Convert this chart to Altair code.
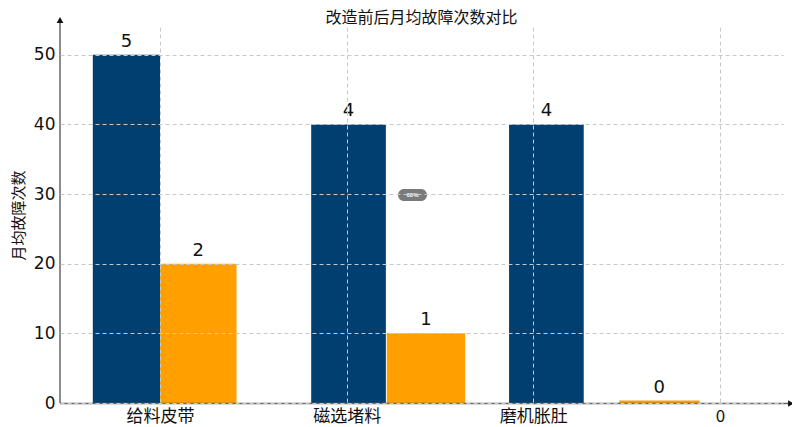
import altair as alt
import pandas as pd

categories = ["给料皮带", "磁选堵料", "磨机胀肚", "0"]
series = ["改造前", "改造后", "改造前", "改造后", "改造前", "改造后"]
values = [50, 20, 40, 10, 40, 0.35]
labels = ["5", "2", "4", "1", "4", "0"]
# bar extents on the category-index axis
bar_start = [-0.36, 0.0, 0.81, 1.215, 1.87, 2.46]
bar_end = [0.0, 0.41, 1.21, 1.635, 2.27, 2.89]
y_ticks = [0, 10, 20, 30, 40, 50]
title_text = "改造前后月均故障次数对比"

BLUE = "#003f6f"
ORANGE = "#ff9f00"
FONT = "Noto Sans CJK SC"

df = pd.DataFrame({
    "series": series, "value": values, "label": labels,
    "x0": bar_start, "x1": bar_end,
})
df["xc"] = (df["x0"] + df["x1"]) / 2
one = pd.DataFrame({"k": [0]})

W, H = 723, 376
xscale = alt.Scale(domain=[-0.5357, 3.3375], nice=False, zero=False)
yscale = alt.Scale(domain=[0, 54], nice=False)

label_expr = "[" + ",".join(f"'{c}'" for c in categories) + "][datum.value]"

base = alt.Chart(df)

bars = base.mark_bar(stroke=None).encode(
    x=alt.X("x0:Q", scale=xscale,
            axis=alt.Axis(values=[0, 1, 2, 3], labelExpr=label_expr, title=None,
                          grid=True, gridDash=[4, 3], gridColor="#c8c8c8",
                          domain=False, ticks=False, labelFontSize=17,
                          labelFont=FONT, labelColor="#111", labelPadding=5,
                          zindex=1)),
    x2="x1:Q",
    y=alt.Y("value:Q", scale=yscale,
            axis=alt.Axis(values=y_ticks, title="月均故障次数", grid=True,
                          gridDash=[4, 3], gridColor="#c8c8c8", domain=False,
                          ticks=False, labelFontSize=17, labelFont="DejaVu Sans",
                          labelColor="#111", labelPadding=5, titleFontSize=15,
                          titleFont=FONT, titleFontWeight="normal",
                          titleColor="#111", titlePadding=7, zindex=1)),
    y2=alt.datum(0),
    color=alt.Color("series:N", scale=alt.Scale(domain=["改造前", "改造后"],
                                                range=[BLUE, ORANGE]),
                    legend=None),
)

texts = base.mark_text(baseline="alphabetic", dy=-8, fontSize=18,
                       font="DejaVu Sans", color="#111").encode(
    x=alt.X("xc:Q", scale=xscale),
    y=alt.Y("value:Q", scale=yscale),
    text="label:N",
)

deco = alt.Chart(one)
yaxis_line = deco.mark_rule(color="#666", strokeWidth=1.5).encode(
    x=alt.value(0), y=alt.value(-6), y2=alt.value(H))
xaxis_line = deco.mark_rule(color="#666", strokeWidth=1.5).encode(
    x=alt.value(0), x2=alt.value(730), y=alt.value(H + 0.5))
yarrow = deco.mark_point(shape="triangle-up", filled=True, size=45,
                         color="#111", opacity=1).encode(
    x=alt.value(0), y=alt.value(-7))
xarrow = deco.mark_point(shape="triangle-right", filled=True, size=45,
                         color="#111", opacity=1).encode(
    x=alt.value(731), y=alt.value(H + 0.5))

pill = deco.mark_rect(color="#7a7a7a", cornerRadius=6).encode(
    x=alt.value(338), x2=alt.value(367), y=alt.value(162), y2=alt.value(174))
pill_text = deco.mark_text(text="60%", fontSize=6, color="#ffffff",
                           fontWeight="bold").encode(
    x=alt.value(352.5), y=alt.value(168))

title_mark = deco.mark_text(text=title_text, fontSize=16, font=FONT,
                            color="#111", align="center",
                            baseline="middle").encode(
    x=alt.value(W / 2), y=alt.value(-9))

chart = alt.layer(bars, texts, yaxis_line, xaxis_line, yarrow, xarrow,
                  pill, pill_text, title_mark).properties(
    width=W, height=H,
    autosize=alt.AutoSizeParams(type="none"),
    padding={"left": 52, "top": 19, "right": 9, "bottom": 22},
).configure_view(stroke=None)

chart.save("out.html", embed_options={"renderer": "svg", "actions": False})
